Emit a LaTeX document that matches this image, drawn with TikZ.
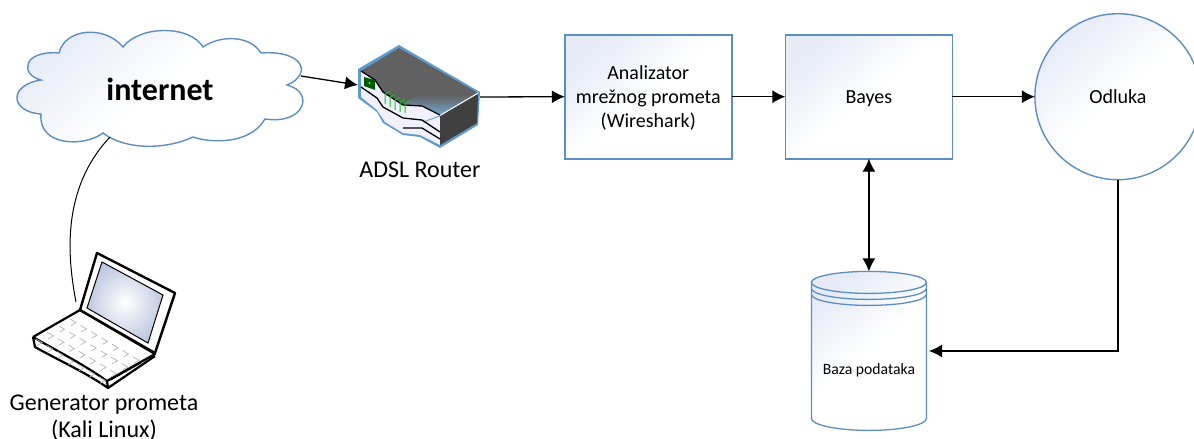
\documentclass[tikz,border=0pt]{standalone}
\usepackage{fontspec}
\setmainfont{Carlito}
\usepackage{xcolor}
\usetikzlibrary{shapes.geometric,arrows.meta,matrix}
\definecolor{lineBlue}{HTML}{5B8EC2}
\definecolor{paleBlue}{HTML}{E6EBF6}
\definecolor{routerBlue}{HTML}{5D9BCF}
\definecolor{keyGrey}{HTML}{B4B4B4}
\definecolor{screenBlue}{HTML}{BFC9E0}
\definecolor{ledGreen}{HTML}{1FC01F}

\begin{document}
\begin{tikzpicture}[
  x=1pt,y=-1pt,
  every matrix/.style={ampersand replacement=\&,inner sep=0pt,outer sep=0pt},
  softFill/.style={top color=paleBlue,bottom color=white,middle color=white,shading angle=40},
  stepBox/.style={draw=lineBlue,line width=1.6pt,rectangle,softFill,minimum width=167pt,minimum height=124pt,
    anchor=center,align=center,text depth=0pt,font=\fontsize{20}{24}\selectfont},
  decisionCircle/.style={draw=lineBlue,line width=1.4pt,circle,softFill,minimum size=166pt,anchor=center,
    font=\fontsize{20}{24}\selectfont},
  database/.style={rectangle,anchor=center,minimum width=115pt,minimum height=159pt},
  dbLine/.style={draw=lineBlue,line width=1.3pt},
  deviceLabel/.style={align=center,font=\fontsize{24}{27}\selectfont},
  flow/.style={-{Latex[length=13pt,width=13pt]},line width=1.3pt,black},
  flowBoth/.style={{Latex[length=13pt,width=13pt]}-{Latex[length=13pt,width=13pt]},line width=1.3pt,black},
  wire/.style={line width=1pt,black}]

  \useasboundingbox (0,0) rectangle (1194,439);

  % cloud
  \path[draw=lineBlue,line width=1.4pt,softFill] (59,53)
    .. controls (65,28) and (105,25) .. (123,47)
    .. controls (140,25) and (190,25) .. (203,47)
    .. controls (220,35) and (250,35) .. (261,53)
    .. controls (305,50) and (312,75) .. (287,85)
    .. controls (315,92) and (305,125) .. (265,119)
    .. controls (250,145) and (210,143) .. (193,137)
    .. controls (165,150) and (125,150) .. (103,133)
    .. controls (85,147) and (38,147) .. (41,114)
    .. controls (10,112) and (8,85) .. (41,80)
    .. controls (20,75) and (22,50) .. (59,53) -- cycle;
  \node[font=\fontsize{32}{34}\selectfont\bfseries] (internet) at (160,89) {internet};
  \coordinate (cloudOut) at (301,76);
  \coordinate (cloudBottom) at (110,137);

  % router
  \fill[routerBlue] (358,69) -- (399,45) -- (480,92) -- (478,125) -- (440,148) -- (420,137) -- (403,135)
    -- (383,123) -- (377,112) -- (358,98) -- cycle;
  \fill[white!94!blue] (361,71) -- (375,80) -- (383,92) -- (403,105) -- (422,106) -- (440,115) -- (440,145)
    -- (420,135) -- (403,133) -- (385,122) -- (377,110) -- (361,97) -- cycle;
  \fill[black!62] (361,71) -- (399,48) -- (478,93) -- (440,115)
    -- (422,106) -- (403,105) -- (383,92) -- (375,80) -- cycle;
  \begin{scope}
    \clip (403,105) -- (422,92) -- (478,93) -- (440,115) -- (422,106) -- cycle;
    \shade[top color=black!62,bottom color=routerBlue!85!white] (400,95) rectangle (480,116);
  \end{scope}
  \fill[black!75] (440,116) -- (478,94) -- (477,123) -- (440,145) -- cycle;
  \draw[white,line width=1pt] (440,115.5) -- (478,93);
  \draw[routerBlue,line width=.8pt] (423,122) -- (440,116);
  \draw[black,line width=1.3pt] (361,71) -- (375,80) -- (383,92) -- (403,105) -- (422,106) -- (440,115);
  \draw[black,line width=1.3pt] (361,87) -- (377,98) -- (383,107) -- (403,118) -- (422,120) -- (440,132);
  \draw[black,line width=1.3pt] (403,128) -- (422,128) -- (440,139);
  \fill[green!35!black] (364,77) -- (375,80) -- (375,90) -- (364,86) -- cycle;
  \fill[green!70!white] (369.5,83) circle[radius=1.2];
  \foreach \ledX/\ledY in {385/94,390/97,395/100,400/102,405/103}
    \draw[ledGreen,line width=1pt] (\ledX,\ledY) -- ++(0,10) (\ledX,\ledY) -- ++(5,-2.5);
  \node[deviceLabel] (routerLabel) at (420,170) {ADSL Router};
  \coordinate (routerIn) at (358,85);
  \coordinate (routerOut) at (480,97);

  % laptop
  \fill[white] (33,337) -- (80,310) -- (97,253) -- (175,293) -- (155,354) -- (108,388) -- (35,347) -- cycle;
  \draw[black,line width=2.2pt,line join=round] (33,337) -- (80,310) -- (155,354) -- (107,381)
    .. controls (80,362) and (55,350) .. (33,337);
  \draw[black,line width=2.2pt,line join=round] (33,337) -- (35,347) .. controls (58,360) and (85,372) .. (108,388) -- (107,381);
  \draw[black,line width=2.2pt,line join=round] (108,388) -- (155,356);
  \draw[black,line width=.8pt] (111,380) -- (141,363);
  \foreach \rowN in {0,1,2,3}
    \foreach \colN in {0,...,6}
      \draw[keyGrey,line width=.7pt] ({70+10.5*\colN-11.3*\rowN},{319+6.3*\colN+6.7*\rowN}) -- ++(6,3.5) -- ++(-5,3);
  \draw[black,line width=2.4pt,line join=round,fill=white] (80,310) -- (97,253) -- (175,293) -- (155,353) -- cycle;
  \shade[inner color=white,outer color=screenBlue] (87,308) -- (102,262) -- (163,295) -- (148,343) -- cycle;
  \draw[black,line width=1pt] (87,308) -- (102,262) -- (163,295) -- (148,343) -- cycle;
  \node[deviceLabel] (laptopLabel) at (104,418) {Generator prometa\\(Kali Linux)};
  \coordinate (laptopTop) at (76,302);

  % main blocks
  \matrix (mainBlocks) [anchor=north west,column sep=52pt,row sep=91pt] at (564,13) {
    \node[stepBox] (analyzer) {Analizator\\mrežnog prometa\\(Wireshark)}; \&
    \node[stepBox] (bayes) {Bayes}; \&[29pt]
    \node[decisionCircle] (decision) {Odluka}; \\
    \& \node[database] (baza) {}; \& \\
  };

  % database drum
  \path[dbLine,softFill] ([yshift=-11pt]baza.north west)
    arc[start angle=180,end angle=0,x radius=57.5pt,y radius=11pt]
    -- ([yshift=12pt]baza.south east)
    arc[start angle=0,end angle=-180,x radius=57.5pt,y radius=12pt] -- cycle;
  \foreach \ringShift in {11,17,23}
    \path[dbLine] ([yshift=-\ringShift pt]baza.north west)
      arc[start angle=180,end angle=360,x radius=57.5pt,y radius=11pt];
  \node[font=\fontsize{15.7}{18}\selectfont] (bazaText) at (869,370) {Baza podataka};

  % connectors
  \draw[flow] (cloudOut) -- (routerIn);
  \draw[wire] (cloudBottom) .. controls (60,190) and (68,260) .. (laptopTop);
  \draw[flow] (routerOut) -- (analyzer.west);
  \draw[flow] (analyzer) -- (bayes);
  \draw[flow] (bayes) -- (decision);
  \draw[flowBoth] (bayes) -- (baza.north);
  \draw[flow] (decision.south) |- (929,351);
\end{tikzpicture}
\end{document}
